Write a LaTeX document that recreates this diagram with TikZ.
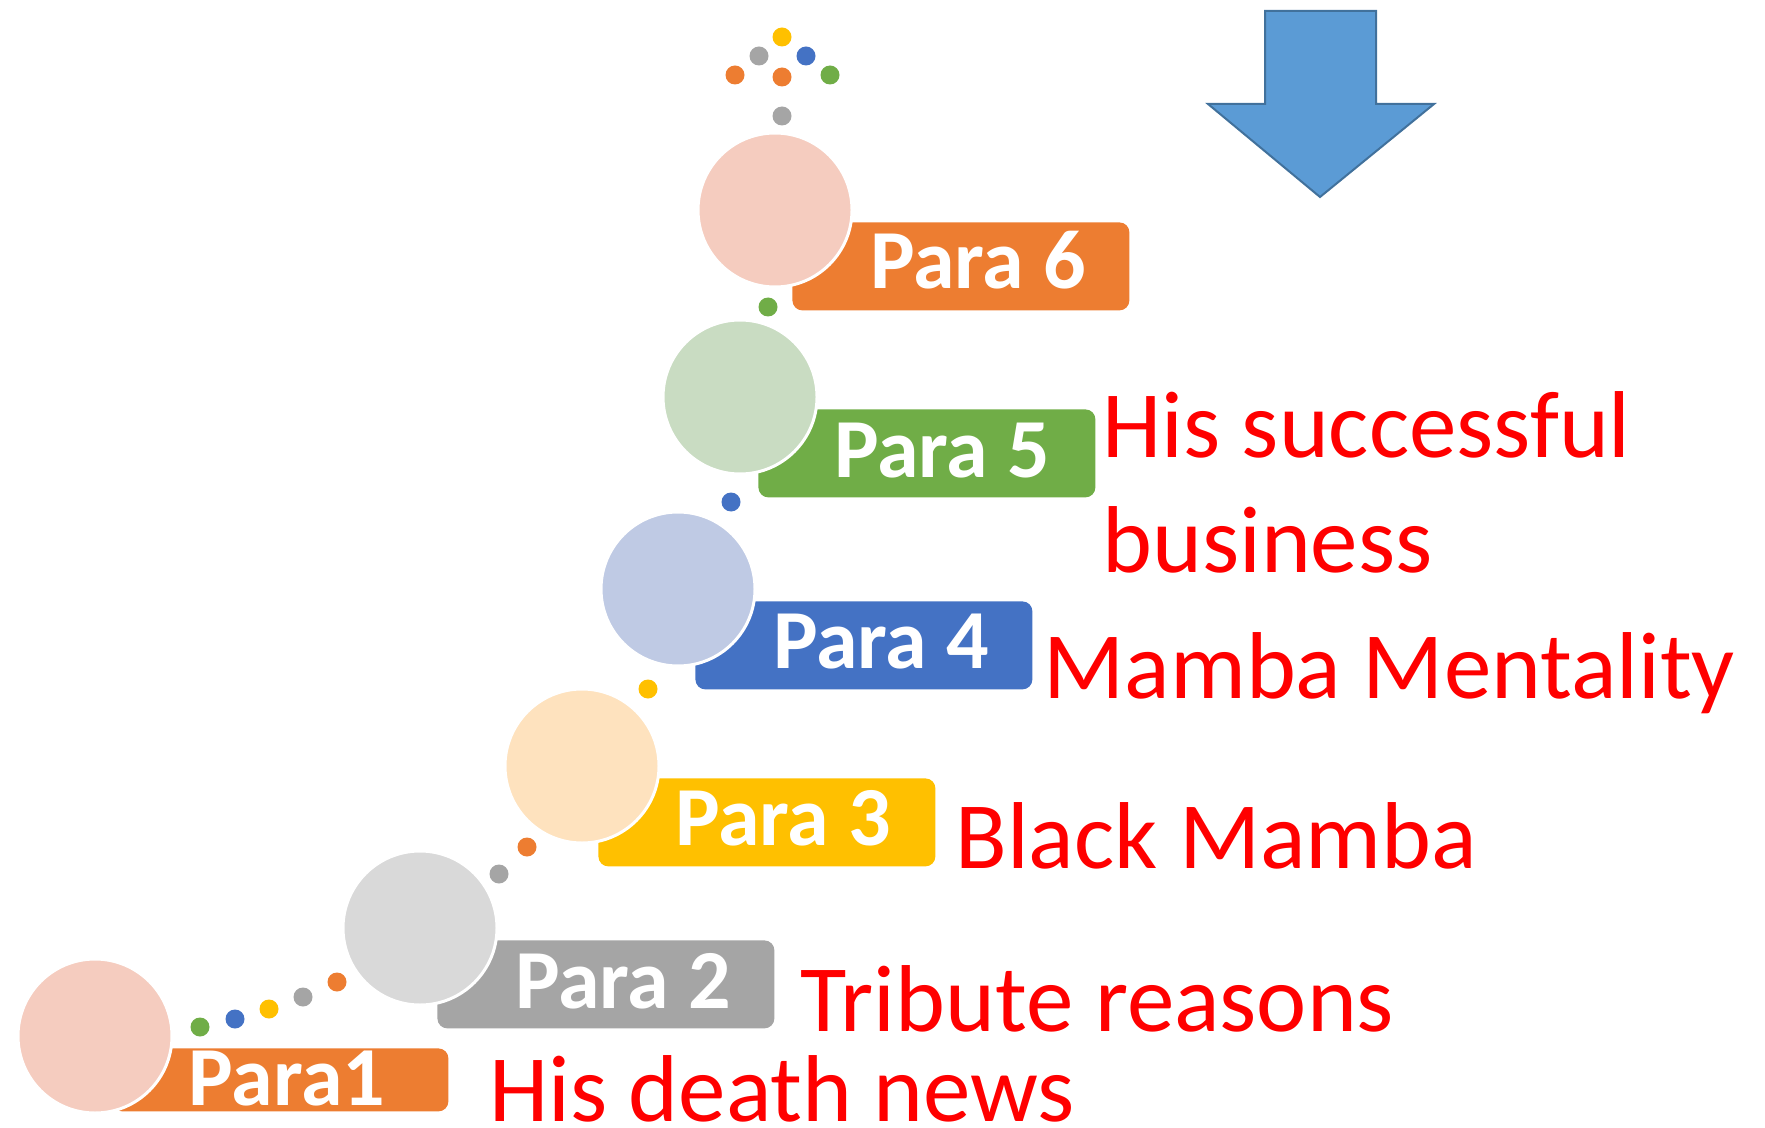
\documentclass[tikz,border=0pt]{standalone}
\usepackage{fontspec}
\setmainfont{Carlito}
\definecolor{cOrange}{HTML}{ED7D31}
\definecolor{cGray}{HTML}{A5A5A5}
\definecolor{cYellow}{HTML}{FFC000}
\definecolor{cBlue}{HTML}{4472C4}
\definecolor{cGreen}{HTML}{70AD47}
\definecolor{lOrange}{HTML}{F5CCBF}
\definecolor{lGray}{HTML}{D9D9D9}
\definecolor{lYellow}{HTML}{FEE2BE}
\definecolor{lBlue}{HTML}{BFCAE4}
\definecolor{lGreen}{HTML}{C9DCC2}
\definecolor{arrowFill}{HTML}{5B9BD5}
\definecolor{arrowLine}{HTML}{41719C}
\definecolor{txtRed}{HTML}{FF0000}
\begin{document}
\begin{tikzpicture}[x=0.5pt,y=-0.5pt,
  bubble/.style={circle,draw=white,line width=1.5pt,minimum size=77pt,inner sep=0pt},
  tagbox/.style={rectangle,rounded corners=5pt,anchor=north west,inner sep=0pt,minimum width=168.5pt,minimum height=44pt},
  tagtext/.style={anchor=base,inner sep=0pt,text=white,font=\bfseries\fontsize{42pt}{50pt}\selectfont},
  redtext/.style={anchor=base west,inner sep=0pt,text=txtRed,font=\fontsize{47.5pt}{57pt}\selectfont},
  dotO/.style={fill=cOrange},dotG/.style={fill=cGray},dotY/.style={fill=cYellow},
  dotB/.style={fill=cBlue},dotN/.style={fill=cGreen}]
\useasboundingbox (0,0) rectangle (1765,1128);
% boxes
\node[tagbox,fill=cOrange,minimum width=168pt,minimum height=31.5pt] (b1) at (112,1048) {};
\node[tagbox,fill=cGray] (b2) at (437,940) {};
\node[tagbox,fill=cYellow] (b3) at (598,778) {};
\node[tagbox,fill=cBlue] (b4) at (695,601) {};
\node[tagbox,fill=cGreen] (b5) at (758,409) {};
\node[tagbox,fill=cOrange] (b6) at (792,222) {};
% circles
\node[bubble,fill=lOrange] (c1) at (95,1036) {};
\node[bubble,fill=lGray] (c2) at (420,928) {};
\node[bubble,fill=lYellow] (c3) at (582,766) {};
\node[bubble,fill=lBlue] (c4) at (678,589) {};
\node[bubble,fill=lGreen] (c5) at (740,397) {};
\node[bubble,fill=lOrange] (c6) at (775,210) {};
% labels in boxes
\node[tagtext] (t1) at (287,1105) {Para1};
\node[tagtext] (t2) at (623,1008) {Para 2};
\node[tagtext] (t3) at (783,845) {Para 3};
\node[tagtext] (t4) at (881,668) {Para 4};
\node[tagtext] (t5) at (942,477) {Para 5};
\node[tagtext] (t6) at (978,289) {Para 6};
% red descriptions
\node[redtext] (d1) at (489,1121) {His death news};
\node[redtext] (d2) at (800,1031) {Tribute reasons};
\node[redtext] (d3) at (955,868) {Black Mamba};
\node[redtext] (d4) at (1043,698) {Mamba Mentality};
\node[redtext] (d5a) at (1102,457) {His successful};
\node[redtext] (d5b) at (1102,572) {business};
% dots
\foreach \p/\s in {{(200,1027)}/dotN,{(235,1019)}/dotB,{(269,1009)}/dotY,{(303,997)}/dotG,{(337,982)}/dotO,
  {(499,874)}/dotG,{(527,847)}/dotO,{(648,689)}/dotY,{(731,502)}/dotB,{(768,307)}/dotN,
  {(782,116)}/dotG,{(735,75)}/dotO,{(782,77)}/dotO,{(830,75)}/dotN,{(759,56)}/dotG,{(806,56)}/dotB,{(782,37)}/dotY}
  \fill[\s] \p circle (9.5);
% arrow
\draw[fill=arrowFill,draw=arrowLine,line width=1pt,line join=miter]
  (1265,11) -- (1376,11) -- (1376,104) -- (1434,104) -- (1320,197) -- (1208,104) -- (1265,104) -- cycle;
\end{tikzpicture}
\end{document}
